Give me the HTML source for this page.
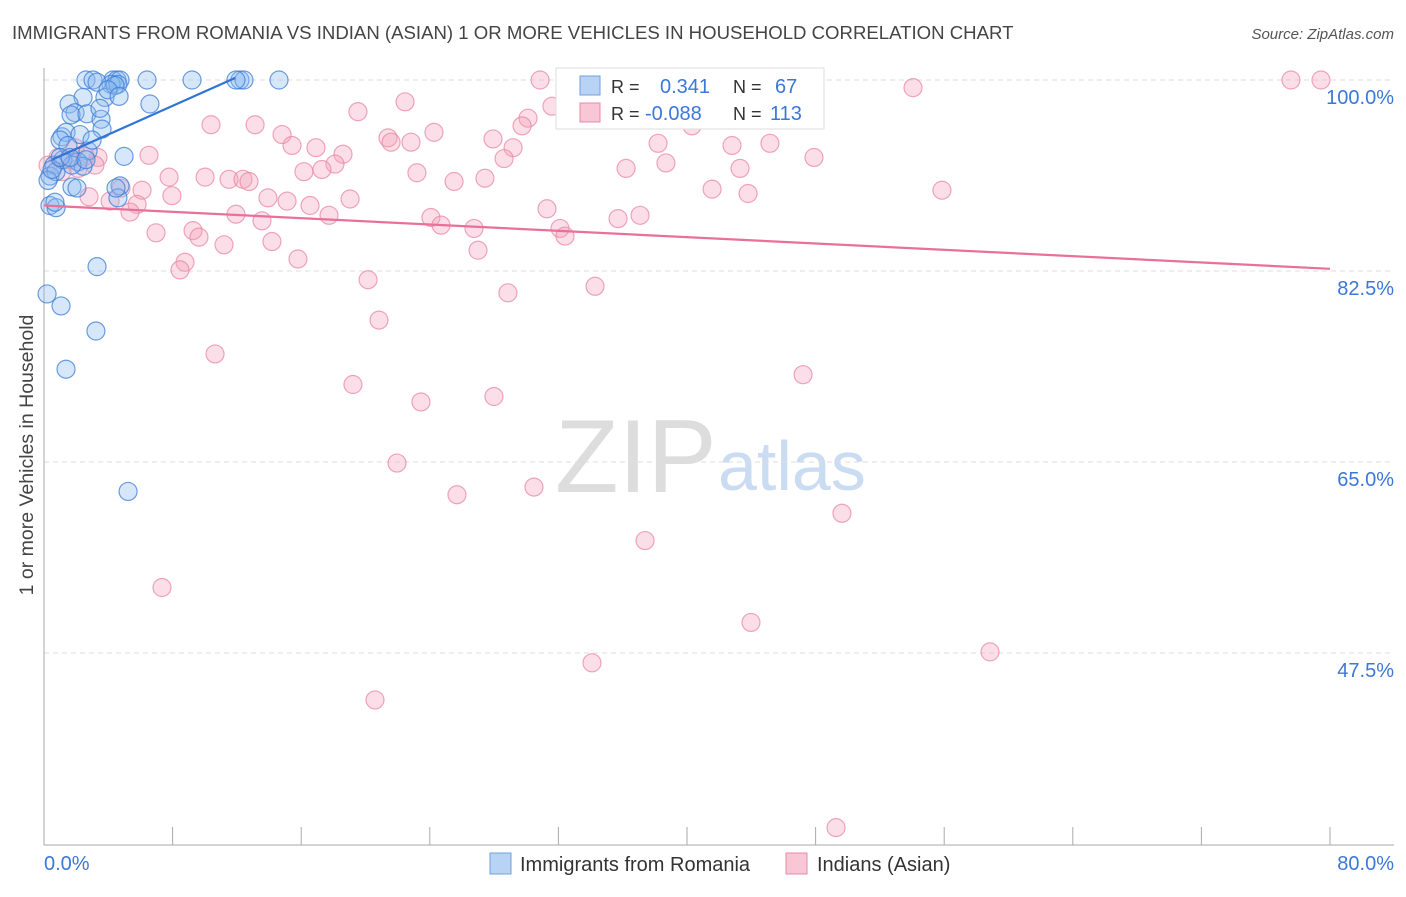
<!DOCTYPE html>
<html><head><meta charset="utf-8"><style>
body{margin:0;background:#fff;font-family:"Liberation Sans",sans-serif;}
svg text{font-family:"Liberation Sans",sans-serif;}
</style></head><body>
<svg id="chart" width="1406" height="892" viewBox="0 0 1406 892" xmlns="http://www.w3.org/2000/svg">
<text x="12" y="39" font-size="18.6" fill="#444">IMMIGRANTS FROM ROMANIA VS INDIAN (ASIAN) 1 OR MORE VEHICLES IN HOUSEHOLD CORRELATION CHART</text>
<text x="1394" y="39" font-size="15" fill="#555" text-anchor="end" font-style="italic">Source: ZipAtlas.com</text>
<g>
<text x="555" y="492" font-size="104" fill="#ddd" font-family="Liberation Serif,serif">ZIP</text>
<text x="718" y="490" font-size="70" fill="#c9dcf2">atlas</text>
</g>
<g id="grid"></g>
<g id="axes"></g>
<g id="pts"></g>
<g id="trends"></g>
<text transform="translate(33,455) rotate(-90)" font-size="19.5" fill="#444" text-anchor="middle">1 or more Vehicles in Household</text>
<text x="44" y="870" font-size="20" fill="#3b78d8">0.0%</text>
<text x="1394" y="870" font-size="20" fill="#3b78d8" text-anchor="end">80.0%</text>
<g>
<rect x="556" y="68" width="268" height="61" fill="#fff" stroke="#ddd"/>
<rect x="580" y="76" width="20" height="19" fill="#b8d3f3" stroke="#6fa0e0"/>
<rect x="580" y="103" width="20" height="19" fill="#f8c6d4" stroke="#e98aa8"/>
<text x="611" y="93" font-size="18" fill="#333">R =</text>
<text x="660" y="93" font-size="20" fill="#3b78d8">0.341</text>
<text x="733" y="93" font-size="18" fill="#333">N =</text>
<text x="775" y="93" font-size="20" fill="#3b78d8">67</text>
<text x="611" y="120" font-size="18" fill="#333">R =</text>
<text x="645" y="120" font-size="20" fill="#3b78d8">-0.088</text>
<text x="733" y="120" font-size="18" fill="#333">N =</text>
<text x="770" y="120" font-size="20" fill="#3b78d8">113</text>
</g>
<g>
<rect x="490" y="853" width="21" height="21" fill="#b8d3f3" stroke="#6fa0e0"/>
<text x="520" y="871" font-size="20" fill="#333">Immigrants from Romania</text>
</g>
<g>
<rect x="786" y="853" width="21" height="21" fill="#f8c6d4" stroke="#e98aa8"/>
<text x="817" y="871" font-size="20" fill="#333">Indians (Asian)</text>
</g>
</svg>
<script>
const yTicks=[100,82.5,65,47.5];
const yTickLabels=["100.0%","82.5%","65.0%","47.5%"];
const blueX=[2.61,3.05,4.29,4.54,4.73,6.41,9.21,12.19,12.44,14.62,4.17,4.6,2.43,6.59,1.56,1.93,1.68,2.67,3.79,3.55,3.61,1.12,1.37,2.24,2.74,4.98,2.12,1.0,2.43,0.62,0.37,0.75,1.74,2.05,4.73,4.6,0.37,0.75,0.68,3.3,0.19,1.06,3.23,1.37,5.23,1.18,1.74,0.25,0.5,3.3,4.42,3.98,3.48,1.49,2.99,1.0,1.62,2.61,4.48,11.94,4.67];
const blueY=[100,100,100,100,100,100,100,100,100,100,99.6,99.6,98.4,97.8,97.8,97.0,96.8,96.9,98.4,96.4,95.5,94.8,95.2,95.0,93.5,93.0,92.5,94.5,92.1,92.2,91.2,91.6,90.2,90.1,90.3,89.2,88.5,88.3,88.8,82.9,80.4,79.3,77.0,73.5,62.3,92.7,92.2,90.8,91.8,99.8,99.5,99.1,97.4,94.0,94.5,92.9,92.9,92.7,90.1,100,98.5];
const pinkX=[30.86,46.59,77.57,79.44,54.06,22.46,31.6,19.53,30.11,10.39,13.13,29.74,40.31,24.26,14.81,21.4,21.59,22.83,27.93,38.2,42.8,45.16,15.43,16.92,29.18,18.6,6.53,47.9,3.36,18.1,28.62,36.21,38.69,43.3,16.17,17.29,23.2,27.43,7.78,10.02,11.51,12.38,12.75,25.51,41.56,55.86,6.1,4.79,7.96,13.93,15.12,43.8,2.8,4.11,5.79,19.04,16.55,5.35,17.73,11.94,31.29,13.56,24.07,24.7,26.75,32.1,32.41,35.71,37.08,6.97,9.27,9.64,11.2,14.18,27.0,8.77,8.46,15.8,20.16,28.86,34.28,20.84,10.64,47.22,19.22,27.99,23.45,21.96,30.48,25.69,49.64,37.39,7.34,43.98,34.09,58.85,20.59,49.27,1.62,0.87,2.12,2.55,1.12,3.17,0.25,1.93,36.58];
const pinkY=[100,100,100,100,99.3,98.0,97.6,97.1,96.5,95.9,95.9,95.8,95.8,95.2,95.0,94.7,94.3,94.3,94.6,94.2,94.0,94.2,94.0,93.8,93.8,93.2,93.1,92.9,92.9,92.3,92.8,91.9,92.4,91.9,91.6,91.8,91.5,91.0,91.1,91.1,90.9,90.9,90.7,90.7,90.0,89.9,89.9,90.1,89.4,89.2,88.9,89.6,89.3,88.9,88.6,89.1,88.5,87.9,87.6,87.7,88.2,87.1,87.4,86.7,86.4,86.4,85.7,87.3,87.6,86.0,86.2,85.6,84.9,85.2,84.4,83.3,82.6,83.6,81.7,80.5,81.1,78.0,74.9,73.0,72.1,71.0,70.5,64.9,62.7,62.0,60.3,57.8,53.5,50.3,46.6,47.6,43.2,31.5,92.7,92.9,91.9,93.0,91.6,92.2,92.2,93.8,97.5];
const blueTrend=[[0.5,92.7],[11.9,100.2]];
const pinkTrend=[[0,88.5],[80,82.7]];
const NS="http://www.w3.org/2000/svg";
const X=v=>44+v*16.075;
const Y=v=>80+(100-v)*10.914;
function mk(t,a,p){const e=document.createElementNS(NS,t);for(const k in a)e.setAttribute(k,a[k]);p.appendChild(e);return e;}
const grid=document.getElementById('grid');
yTicks.forEach((t,i)=>{
 const l=mk('line',{x1:44,x2:1394,y1:Y(t),y2:Y(t),stroke:'#ddd','stroke-dasharray':'5,4'},grid);
 
 
 const tx=mk('text',{x:1394,y:Y(t)+24,'font-size':20,fill:'#3b78d8','text-anchor':'end'},grid);
 tx.textContent=yTickLabels[i];
 
 
});
const ax=document.getElementById('axes');
const yl=mk('line',{x1:44,x2:44,y1:68,y2:845,stroke:'#aaa'},ax);


const xl=mk('line',{x1:44,x2:1394,y1:845,y2:845,stroke:'#aaa'},ax);


for(let i=0;i<=10;i++){const t=mk('line',{x1:X(i*8),x2:X(i*8),y1:827,y2:845,stroke:'#aaa'},ax);
 
 }
const pts=document.getElementById('pts');
pinkX.forEach((x,i)=>{const c=mk('circle',{cx:X(x),cy:Y(pinkY[i]),r:9,fill:'rgba(244,160,186,0.35)',stroke:'rgba(232,130,160,0.7)','stroke-width':1.2},pts);
 
 });
blueX.forEach((x,i)=>{const c=mk('circle',{cx:X(x),cy:Y(blueY[i]),r:9,fill:'rgba(140,185,240,0.35)',stroke:'rgba(60,125,215,0.75)','stroke-width':1.2},pts);
 
 });
const tr=document.getElementById('trends');
const bt=mk('line',{x1:X(blueTrend[0][0]),y1:Y(blueTrend[0][1]),x2:X(blueTrend[1][0]),y2:Y(blueTrend[1][1]),stroke:'#2f74d6','stroke-width':2.2},tr);


const pt=mk('line',{x1:X(pinkTrend[0][0]),y1:Y(pinkTrend[0][1]),x2:X(pinkTrend[1][0]),y2:Y(pinkTrend[1][1]),stroke:'#e8709a','stroke-width':2.2},tr);


</script>
</body></html>
